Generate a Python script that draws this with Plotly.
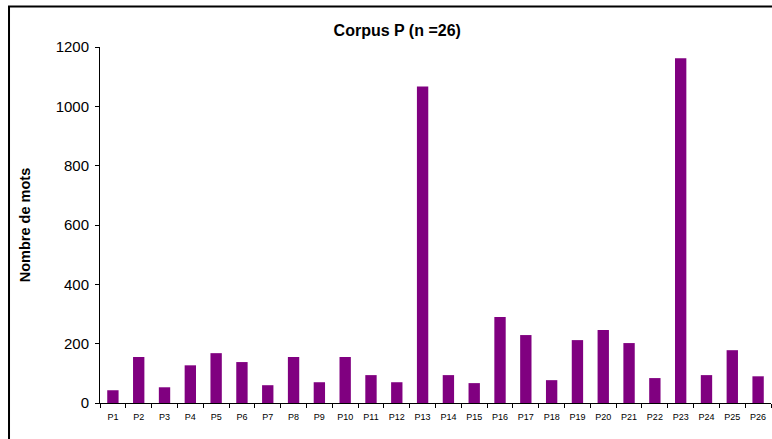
import plotly.graph_objects as go

# Nombre de mots par texte du corpus P
labels = ["P%d" % i for i in range(1, 27)]
mots = [43, 155, 53, 127, 168, 138, 60, 155, 70, 155, 94, 70, 1067,
        94, 67, 290, 229, 77, 212, 246, 202, 84, 1162, 94, 178, 90]

fig = go.Figure()

fig.add_trace(go.Bar(
    x=labels,
    y=mots,
    marker=dict(color="#800080", line=dict(width=0)),
    width=0.44,
))

fig.update_layout(
    width=772,
    height=439,
    margin=dict(l=100, r=1, t=47, b=36),
    paper_bgcolor="white",
    plot_bgcolor="white",
    showlegend=False,
    font=dict(family="Liberation Sans, Arial", color="black"),
    title=dict(
        text="<b>Corpus P (n =26)</b>",
        font=dict(size=16),
        x=0.443, xref="paper", xanchor="center",
        y=1 - 30 / 439, yref="container", yanchor="middle",
    ),
    xaxis=dict(
        type="category",
        showline=True, linecolor="black", linewidth=1,
        ticks="outside", tickson="boundaries", ticklen=4, tickcolor="black",
        tickfont=dict(size=9), ticklabelstandoff=5,
        showgrid=False, zeroline=False,
    ),
    yaxis=dict(
        range=[0, 1200],
        tickvals=[0, 200, 400, 600, 800, 1000, 1200],
        showline=True, linecolor="black", linewidth=1,
        ticks="outside", ticklen=4, tickcolor="black",
        tickfont=dict(size=15), ticklabelstandoff=3,
        showgrid=False, zeroline=False,
        title=dict(text="<b>Nombre de mots</b>", font=dict(size=14.5), standoff=21),
    ),
    shapes=[dict(
        type="rect", xref="paper", yref="paper",
        x0=-0.1356, x1=1.05, y0=-0.3, y1=1.114,
        line=dict(color="black", width=2),
    )],
)

# page sans marge pour que la figure remplisse la fenêtre
fig.write_html(
    "out.html",
    config={"displayModeBar": False},
    post_script="document.body.style.margin='0';document.body.style.overflow='hidden';",
)
